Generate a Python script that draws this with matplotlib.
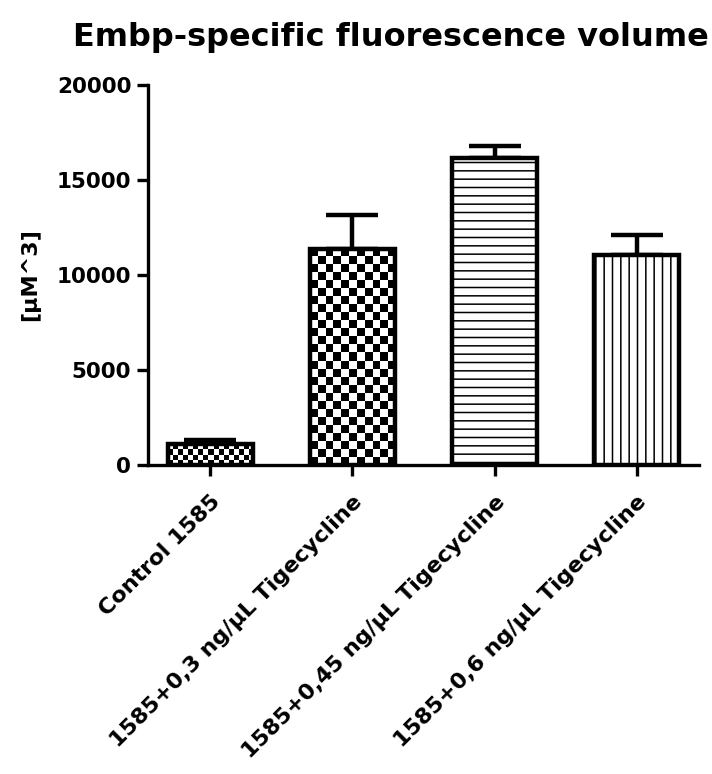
import matplotlib
matplotlib.use("Agg")
import matplotlib.pyplot as plt
import numpy as np

# ---- data ----
groups = [
    "Control 1585",
    "1585+0,3 ng/µL Tigecycline",
    "1585+0,45 ng/µL Tigecycline",
    "1585+0,6 ng/µL Tigecycline",
]
means = [1100, 11370, 16160, 11050]
sem = [190, 1790, 610, 1070]
yticks = [0, 5000, 10000, 15000, 20000]

plt.rcParams["font.family"] = ["DejaVu Sans"]
plt.rcParams["font.weight"] = "bold"
plt.rcParams["hatch.linewidth"] = 1.1

fig = plt.figure(figsize=(7.12, 7.74), dpi=100)
ax = fig.add_axes([148 / 712, (774 - 465) / 774, (699 - 148) / 712, (465 - 85) / 774])

x = np.arange(len(groups))
ax.set_xlim(-0.44, len(groups) - 0.56)
ax.set_ylim(0, 20000)

# fills: fine checker, coarse checker, horizontal, vertical
fills = [("checker", 5.0), ("checker", 8.0), ("hatch", "--"), ("hatch", "||")]

bars = ax.bar(x, means, width=0.6, color="white", edgecolor="black",
              linewidth=3.2, zorder=3)
fig.canvas.draw()
for b, (kind, spec) in zip(bars, fills):
    if kind == "hatch":
        b.set_hatch(spec)
        continue
    b.set_facecolor("none")
    x0, y0, w, h = b.get_x(), b.get_y(), b.get_width(), b.get_height()
    p = ax.transData.transform([[x0, y0], [x0 + w, y0 + h]])
    wpx, hpx = p[1] - p[0]
    ncol = max(1, int(round(wpx / spec)))
    nrow = max(1, int(round(hpx / spec)))
    board = np.add.outer(np.arange(nrow), np.arange(ncol)) % 2
    ax.imshow(board, cmap="gray", vmin=0, vmax=1, extent=(x0, x0 + w, y0, y0 + h),
              origin="lower", interpolation="nearest", aspect="auto", zorder=2)

ax.set_xlim(-0.44, len(groups) - 0.56)
ax.set_ylim(0, 20000)

ax.errorbar(x, means, yerr=[np.zeros(len(sem)), sem], fmt="none", ecolor="black",
            elinewidth=3.2, capsize=19, capthick=3.2, zorder=1)

for s in ["top", "right"]:
    ax.spines[s].set_visible(False)
for s in ["left", "bottom"]:
    ax.spines[s].set_linewidth(2.4)

ax.set_yticks(yticks)
ax.set_xticks(x)
ax.set_xticklabels(groups, rotation=45, ha="right", rotation_mode="anchor")
ax.tick_params(axis="y", width=2.4, length=8, labelsize=15.5, pad=4)
ax.tick_params(axis="x", width=2.4, length=8, labelsize=16, pad=11)

ax.set_ylabel("[µM^3]", fontsize=16, fontweight="bold", labelpad=12)
ax.set_title("Embp-specific fluorescence volume", fontsize=23, fontweight="bold",
             pad=28, x=0.44)

fig.savefig("out.png", dpi=100)
